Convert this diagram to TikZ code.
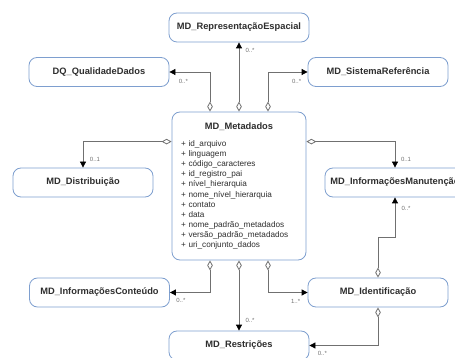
\documentclass[tikz,border=0pt]{standalone}
\usepackage{fontspec}
\setmainfont{Liberation Sans}
\usetikzlibrary{arrows.meta}
\definecolor{boxblue}{HTML}{7E9FCF}
\definecolor{linegray}{HTML}{707070}
\definecolor{txtdark}{HTML}{2E2E2E}
\newcommand{\clsfont}{\fontsize{9.3}{11}\selectfont\bfseries}
\newcommand{\attfont}{\fontsize{8.2}{10.15}\selectfont}
\tikzset{
  cls/.style={draw=boxblue, line width=0.8pt, rounded corners=8pt, fill=white,
              minimum width=140pt, minimum height=29pt, inner sep=0pt,
              font=\clsfont, text=txtdark},
  mcls/.style={cls, minimum width=134pt, minimum height=148pt,
               text width=116pt, align=left, font=\attfont},
  agg/.style={draw=linegray, line width=0.8pt,
              {Diamond[length=10pt, width=5.5pt, fill=white]}-{Triangle[length=6pt, width=6pt, color=black]}},
  mult/.style={font=\fontsize{6}{7}\selectfont, text=linegray, inner sep=0pt, pos=1},
}

\begin{document}
\begin{tikzpicture}[x=1pt, y=-1pt]
        \useasboundingbox (0,0) rectangle (455,358);
        \clip (0,0) rectangle (455,358);
        \node[mcls](meta) at (239,186){{\centering\clsfont MD\_Metadados\par}\vspace{7pt}%
          + id\_arquivo\\+ linguagem\\+ código\_caracteres\\+ id\_registro\_pai\\
          + nível\_hierarquia\\+ nome\_nível\_hierarquia\\+ contato\\+ data\\
          + nome\_padrão\_metadados\\+ versão\_padrão\_metadados\\+ uri\_conjunto\_dados};
        \node[cls](rep) at (239,27.5){MD\_RepresentaçãoEspacial};
        \node[cls](dq) at (99,72){DQ\_QualidadeDados};
        \node[cls](sis) at (378,72){MD\_SistemaReferência};
        \node[cls](dist) at (83,182.5){MD\_Distribuição};
        \node[cls](man) at (395,182.5){MD\_InformaçõesManutenção};
        \node[cls](cont) at (99.5,292.5){MD\_InformaçõesConteúdo};
        \node[cls](ident) at (378,292.5){MD\_Identificação};
        \node[cls](res) at (239,345.5){MD\_Restrições};
        \draw[agg](meta.north) -- (rep.south) node[mult, xshift=11pt, yshift=-8pt]{0..*};
        \draw[agg]([xshift=-29pt]meta.north) |- (dq.east) node[mult, xshift=14pt, yshift=-9pt]{0..*};
        \draw[agg]([xshift=29pt]meta.north) |- (sis.west) node[mult, xshift=-11pt, yshift=-9pt]{0..*};
        \draw[agg]([yshift=-30pt]meta.north west) -| (dist.north) node[mult, xshift=12pt, yshift=8pt]{0..1};
        \draw[agg]([yshift=-30pt]meta.north east) -| (man.north) node[mult, xshift=11pt, yshift=8pt]{0..1};
        \draw[agg]([xshift=-29pt]meta.south) |- (cont.east) node[mult, xshift=11pt, yshift=-8pt]{0..*};
        \draw[agg](meta.south) -- (res.north) node[mult, xshift=11pt, yshift=10pt]{0..*};
        \draw[agg]([xshift=29pt]meta.south) |- (ident.west) node[mult, xshift=-12pt, yshift=-9pt]{1..*};
        \draw[agg](ident.north) -- ++(0,-40) -| (man.south) node[mult, xshift=11pt, yshift=-11pt]{0..*};
        \draw[agg](ident.south) |- (res.east) node[mult, xshift=13pt, yshift=-8pt]{0..*};
      \end{tikzpicture}
\end{document}
